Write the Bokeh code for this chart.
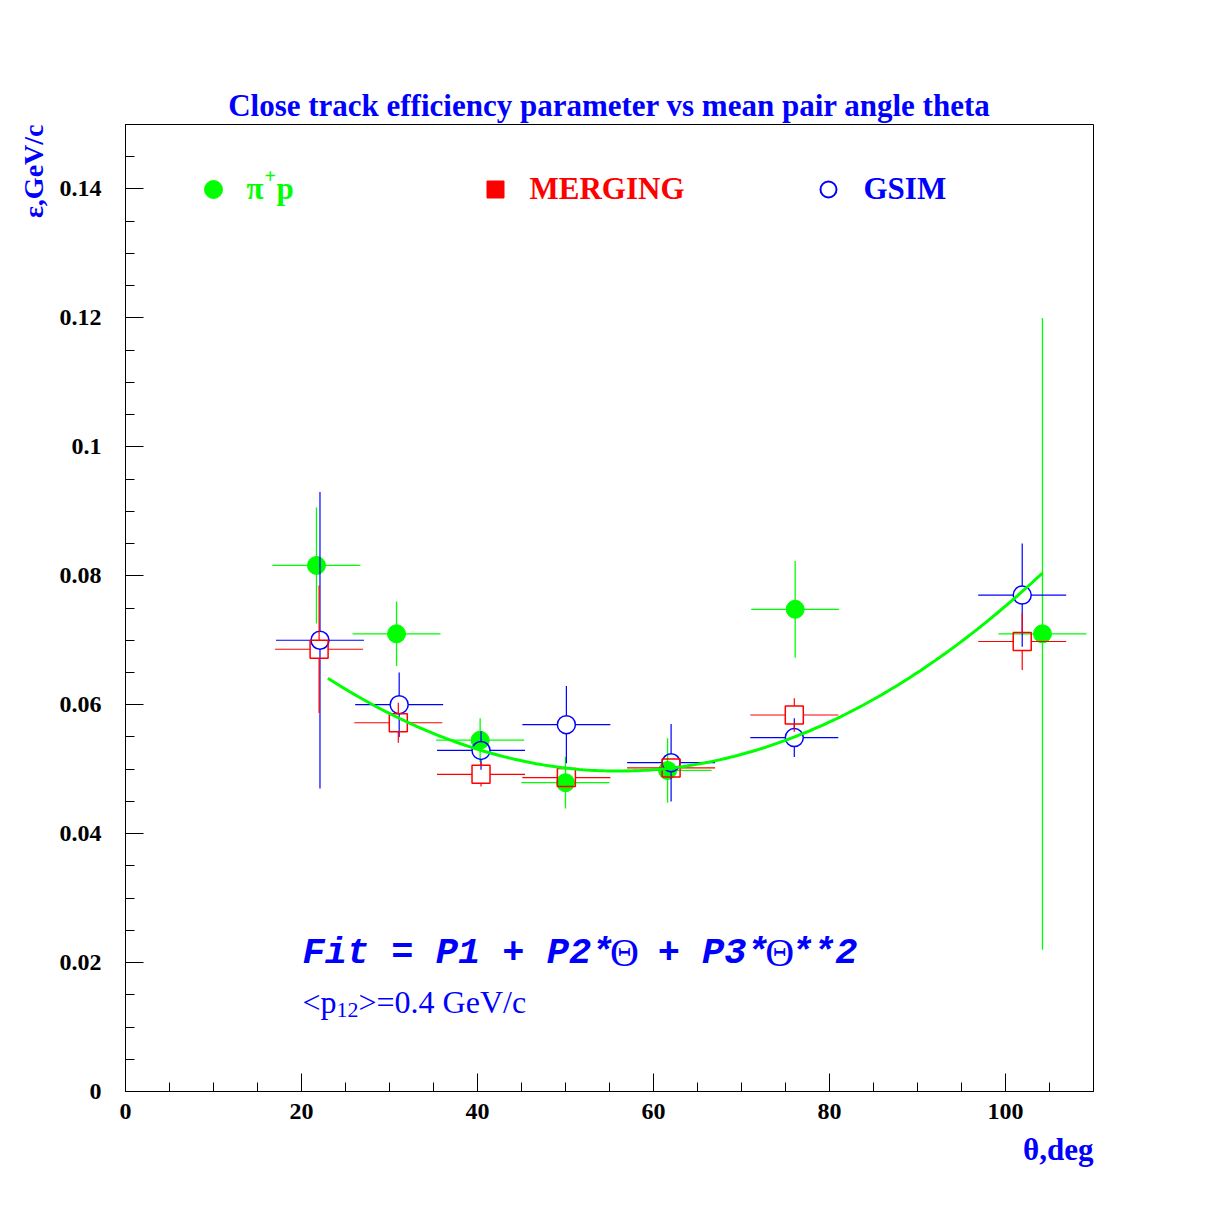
import numpy as np
from bokeh.plotting import figure
from bokeh.models import Label, FixedTicker, Title
from bokeh.embed import file_html
from bokeh.resources import INLINE

# ---------------- data ----------------
theta_pip = [21.7, 30.8, 40.3, 50.0, 61.6, 76.1, 104.2]
eps_pip = [0.0816, 0.0710, 0.0545, 0.0479, 0.0498, 0.0748, 0.0710]
err_pip = [0.0090, 0.0050, 0.0034, 0.0040, 0.0050, 0.0075, 0.0490]

theta_merge = [22.0, 31.0, 40.4, 50.1, 62.0, 76.0, 101.9]
eps_merge = [0.0686, 0.0572, 0.0492, 0.0487, 0.0502, 0.0584, 0.0698]
err_merge = [0.0099, 0.0031, 0.0019, 0.0010, 0.0010, 0.0026, 0.0044]

theta_gsim = [22.1, 31.1, 40.4, 50.1, 62.0, 76.0, 101.9]
eps_gsim = [0.0700, 0.0600, 0.0529, 0.0569, 0.0510, 0.0549, 0.0770]
err_gsim = [0.0230, 0.0050, 0.0030, 0.0060, 0.0060, 0.0030, 0.0080]

theta_err = 5.0  # half-width of angle bins

# fit: P1 + P2*theta + P3*theta**2
P1, P2, P3 = 0.09116, -1.4806e-3, 1.322e-5
fit_range = (23.0, 104.2)

x_ticks = [0, 20, 40, 60, 80, 100]
y_ticks = [0, 0.02, 0.04, 0.06, 0.08, 0.1, 0.12, 0.14]
y_tick_labels = ["0", "0.02", "0.04", "0.06", "0.08", "0.1", "0.12", "0.14"]

# ---------------- style ----------------
GREEN = "#00ff00"
RED = "#ff0000"
BLUE = "#0000ff"
SERIF = "Liberation Serif"
MONO = "Liberation Mono"

FL, FT, FW, FH = 125, 124, 968, 967   # frame left/top/width/height (px)
W, H = 1197, 1193
p = figure(width=W, height=H, x_range=(0, 110), y_range=(0, 0.15),
           output_backend="svg", toolbar_location=None,
           min_border_left=FL, min_border_right=W - FL - FW,
           min_border_top=FT, min_border_bottom=H - FT - FH)
p.grid.visible = False
p.outline_line_color = "black"
p.outline_line_width = 1
p.background_fill_color = "white"
p.border_fill_color = "white"

px_per_x = FW / 110.0
px_per_y = FH / 0.15

# title
p.title.text = "Close track efficiency parameter vs mean pair angle theta"
p.title.align = "center"
p.title.text_color = BLUE
p.title.text_font = SERIF
p.title.text_font_style = "bold"
p.title.text_font_size = "31px"
p.title.standoff = 3

# axis titles
p.add_layout(Title(text="\u03b5,GeV/c", align="right", text_color=BLUE,
                   text_font=SERIF, text_font_style="bold",
                   text_font_size="28px", standoff=16), "left")
p.add_layout(Title(text="\u03b8,deg", align="right", text_color=BLUE,
                   text_font=SERIF, text_font_style="bold",
                   text_font_size="31px", standoff=17), "below")

# axes
p.xaxis.ticker = FixedTicker(ticks=x_ticks, minor_ticks=list(range(0, 111, 5)))
p.yaxis.ticker = FixedTicker(ticks=y_ticks, minor_ticks=[i * 0.005 for i in range(31)])
p.yaxis.major_label_overrides = {t: s for t, s in zip(y_ticks, y_tick_labels)}
for ax in (p.xaxis[0], p.yaxis[0]):
    ax.major_tick_in = 18
    ax.major_tick_out = 0
    ax.minor_tick_in = 9
    ax.minor_tick_out = 0
    ax.axis_line_color = "black"
    ax.major_tick_line_color = "black"
    ax.minor_tick_line_color = "black"
    ax.major_label_text_font = SERIF
    ax.major_label_text_font_style = "bold"
    ax.major_label_text_font_size = "24px"
    ax.major_label_text_color = "black"
p.xaxis.major_label_standoff = 12
p.yaxis.major_label_standoff = 24


def err_segments(xs, ys, ey, color, width, gap_px=9):
    gx = gap_px / px_per_x
    gy = gap_px / px_per_y
    x0, y0, x1, y1 = [], [], [], []
    for x, y, e in zip(xs, ys, ey):
        x0 += [x - theta_err, x + gx]
        x1 += [x - gx, x + theta_err]
        y0 += [y, y]
        y1 += [y, y]
        if e > gy:
            x0 += [x, x]
            x1 += [x, x]
            y0 += [y - e, y + gy]
            y1 += [y - gy, y + e]
    p.segment(x0, y0, x1, y1, line_color=color, line_width=width)


# pi+ p (green filled circles)
err_segments(theta_pip, eps_pip, err_pip, GREEN, 1.3, gap_px=0)
p.scatter(theta_pip, eps_pip, marker="circle", size=18, fill_color=GREEN, line_color=GREEN)

# GSIM (blue open circles)
err_segments(theta_gsim, eps_gsim, err_gsim, BLUE, 1.2)
p.scatter(theta_gsim, eps_gsim, marker="circle", size=18, fill_color=None,
          line_color=BLUE, line_width=1.5)

# MERGING (red open squares)
err_segments(theta_merge, eps_merge, err_merge, RED, 1.2)
p.scatter(theta_merge, eps_merge, marker="square", size=18, fill_color=None,
          line_color=RED, line_width=1.5)

# fit curve
t = np.linspace(fit_range[0], fit_range[1], 200)
p.line(t, P1 + P2 * t + P3 * t ** 2, line_color=GREEN, line_width=3)


def px2x(px):
    return (px - FL) / px_per_x


def py2y(py):
    return (FT + FH - py) / px_per_y


def lab(x, y, text, color, size, font=SERIF, style="bold", align="left",
        baseline="middle"):
    p.add_layout(Label(x=x, y=y, text=text, text_color=color,
                       text_font=font, text_font_style=style,
                       text_font_size=size, text_align=align,
                       text_baseline=baseline))


# legend
ly = py2y(189)
p.scatter([px2x(213)], [ly], marker="circle", size=18, fill_color=GREEN, line_color=GREEN)
lab(px2x(246), py2y(188), "\u03c0", GREEN, "31px")
lab(px2x(264), py2y(175), "+", GREEN, "20px")
lab(px2x(276), py2y(188), "p", GREEN, "31px")

p.scatter([px2x(495)], [ly], marker="square", size=17, fill_color=RED, line_color=RED)
lab(px2x(529), py2y(188), "MERGING", RED, "31px")

p.scatter([px2x(828)], [ly], marker="circle", size=16, fill_color=None,
          line_color=BLUE, line_width=2)
lab(px2x(863), py2y(188), "GSIM", BLUE, "31px")

# fit text (monospace cells, Greek Theta in serif)
cell = 22.2
x0 = 302
fy = py2y(952)
pieces = [(0, "Fit = P1 + P2*"), (16, "+ P3*"), (22, "**2")]
for idx, txt in pieces:
    lab(px2x(x0 + idx * cell), fy, txt, BLUE, "37px", font=MONO,
        style="bold italic", baseline="alphabetic")
for idx in (14, 21):
    lab(px2x(x0 + (idx + 0.5) * cell), fy, "\u0398", BLUE, "40px",
        style="normal", align="center", baseline="alphabetic")

lab(px2x(302), py2y(1001), "<p", BLUE, "32px", style="normal", baseline="alphabetic")
lab(px2x(336), py2y(1009), "12", BLUE, "22px", style="normal", baseline="alphabetic")
lab(px2x(358), py2y(1001), ">=0.4 GeV/c", BLUE, "32px", style="normal",
    baseline="alphabetic")

open("out.html", "w").write(file_html(p, INLINE))
